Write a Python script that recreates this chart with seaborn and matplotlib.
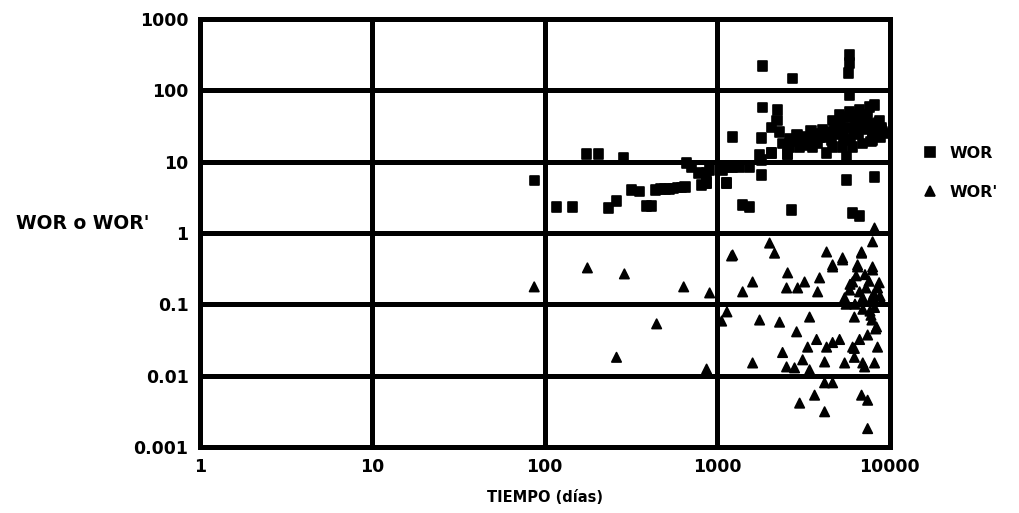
import numpy as np
import pandas as pd
import seaborn as sns
import matplotlib.pyplot as plt
from matplotlib.ticker import FixedLocator, FixedFormatter, NullLocator

# WOR (cuadrados)
wor_t = [87, 117, 145, 175, 206, 287, 235, 261, 319, 356, 390, 417,
         440, 470, 500, 530, 560, 590, 620, 650,
         666, 711, 781, 813, 869, 1135, 1230,
         1835, 2741, 5864, 5864, 5785, 5864,
         1835, 2243, 2230, 2070, 2302, 1811, 2631, 3009, 3302, 3774, 4090, 4673,
         5130, 5864, 6700, 7650, 8180, 8750, 8990, 7970, 6990, 6105, 5342, 4673,
         4313, 3580, 3009, 2631, 2070, 2564, 1763, 5632,
         869, 905, 1076, 1181, 1350, 1543, 1811, 1135, 869,
         2070, 2564, 1230, 1811, 5632, 8180, 1406, 1543, 2704, 6105, 6700,
         3929, 4673, 5342, 6523, 7165, 7970, 8515, 9100, 4200, 5000, 6000, 7000,
         2400, 2800, 3200, 3600, 4000, 4400, 4800, 5200, 5600, 6000, 6400,
         6800, 7200, 7600, 8000, 8400, 8800, 9200, 3400, 3800, 4600, 5400,
         6200, 7400, 8600, 5100, 5900, 6600, 7800, 9000, 2900, 3500]
wor_v = [5.4, 2.3, 2.3, 12.8, 12.8, 11.3, 2.24, 2.8, 4.0, 3.8, 2.4, 2.4,
         4.0, 4.1, 4.1, 4.1, 4.2, 4.3, 4.3, 4.4,
         9.6, 8.2, 6.9, 4.7, 5.0, 5.0, 22,
         220, 145, 314, 242, 175, 86,
         57, 53, 38, 30, 26, 21.5, 21, 20, 20, 25, 28, 38,
         45, 50, 53, 58, 62, 38, 28, 20, 18, 16, 16, 16,
         13.2, 16, 16, 16, 13.2, 12.8, 12.4, 11.6,
         6.9, 7.6, 7.6, 8.2, 8.2, 8.2, 6.5, 5.0, 5.0,
         13.2, 12.8, 8.2, 10.5, 5.5, 6.1, 2.47, 2.3, 2.1, 1.9, 1.73,
         22, 25, 30, 35, 28, 24, 30, 26, 22, 24, 30, 32,
         18, 19, 22, 21, 23, 26, 33, 36, 42, 45, 40,
         36, 42, 34, 30, 26, 22, 25, 17, 18, 20, 22,
         27, 46, 35, 28, 20, 24, 19, 30, 24, 27]

# WOR' (triangulos)
worp_t = [87, 177, 290, 640, 446, 261, 869, 905, 1230, 1062, 1140,
          1213, 2015, 2153, 1606, 1406, 2564, 2528, 2930, 3215, 3827, 3929,
          4313, 4673, 5342, 6523, 6880, 7970, 8180, 7970,
          1763, 2302, 2890, 3437, 3774, 2396, 3350, 4313, 1606, 2528, 2812,
          3133, 3437, 4200, 5487, 6105, 7165, 8180, 8515, 4200, 4673, 3674,
          3009, 4200, 6880, 7460, 7460,
          5342, 6880, 4673, 6523, 7970, 6105, 5864, 6700, 7300, 8515, 5487,
          6990, 7970, 6250, 7900, 8400, 7460, 5130, 6700, 6250, 6250, 6990,
          4673, 8180, 9000, 8700, 5600, 7700,
          7200, 7600, 8100, 6400, 5900, 8800, 7000, 6300, 7800, 8300]
worp_v = [0.175, 0.323, 0.266, 0.175, 0.053, 0.018, 0.0123, 0.144, 0.49, 0.058, 0.078,
          0.475, 0.72, 0.52, 0.205, 0.149, 0.275, 0.169, 0.169, 0.205, 0.149, 0.234,
          0.54, 0.333, 0.446, 0.333, 0.54, 0.333, 1.17, 0.75,
          0.060, 0.056, 0.041, 0.066, 0.032, 0.021, 0.025, 0.025, 0.015, 0.0132, 0.0128,
          0.0166, 0.012, 0.0155, 0.015, 0.025, 0.0132, 0.015, 0.025, 0.0079, 0.0079, 0.0053,
          0.0041, 0.0031, 0.0053, 0.0045, 0.0018,
          0.418, 0.52, 0.356, 0.356, 0.302, 0.205, 0.158, 0.149, 0.169, 0.169, 0.123,
          0.123, 0.127, 0.066, 0.060, 0.048, 0.037, 0.032, 0.032, 0.024, 0.018, 0.015,
          0.029, 0.09, 0.11, 0.2, 0.1, 0.08,
          0.26, 0.21, 0.14, 0.25, 0.19, 0.13, 0.085, 0.1, 0.07, 0.045]

x_ticks = [1, 10, 100, 1000, 10000]
x_labels = ["1", "10", "100", "1000", "10000"]
y_ticks = [0.001, 0.01, 0.1, 1, 10, 100, 1000]
y_labels = ["0.001", "0.01", "0.1", "1", "10", "100", "1000"]

df = pd.concat([
    pd.DataFrame({"t": wor_t, "v": wor_v, "serie": "WOR"}),
    pd.DataFrame({"t": worp_t, "v": worp_v, "serie": "WOR'"}),
], ignore_index=True)

sns.set_style("white")
plt.rcParams["font.family"] = ["DejaVu Sans"]
plt.rcParams["font.weight"] = "bold"
plt.rcParams["text.color"] = "black"
plt.rcParams["axes.labelcolor"] = "black"
plt.rcParams["xtick.color"] = "black"
plt.rcParams["ytick.color"] = "black"

fig = plt.figure(figsize=(10.19, 5.13), dpi=100)
ax = fig.add_axes([0.196, 0.129, 0.677, 0.834])

sns.scatterplot(data=df, x="t", y="v", style="serie",
                markers={"WOR": "s", "WOR'": "^"}, color="black",
                s=46, edgecolor="black", linewidth=1.2, ax=ax)

ax.set_xscale("log")
ax.set_yscale("log")
ax.set_xlim(1, 10000)
ax.set_ylim(0.001, 1000)
ax.xaxis.set_major_locator(FixedLocator(x_ticks))
ax.xaxis.set_major_formatter(FixedFormatter(x_labels))
ax.yaxis.set_major_locator(FixedLocator(y_ticks))
ax.yaxis.set_major_formatter(FixedFormatter(y_labels))
ax.xaxis.set_minor_locator(NullLocator())
ax.yaxis.set_minor_locator(NullLocator())

ax.grid(True, which="major", color="black", linewidth=3.6)
ax.set_axisbelow(True)
for sp in ax.spines.values():
    sp.set_linewidth(3.6)
    sp.set_color("black")
ax.tick_params(axis="both", length=4, width=2, color="black",
               labelcolor="black", labelsize=12.5, pad=4)
for lab in ax.get_xticklabels() + ax.get_yticklabels():
    lab.set_fontweight("bold")

ax.set_xlabel("TIEMPO (días)", fontsize=10.5, fontweight="bold", labelpad=10,
              color="black")
ax.set_ylabel("WOR o WOR'", fontsize=13.5, fontweight="bold", rotation=0,
              labelpad=0, color="black")
ax.yaxis.set_label_coords(-0.17, 0.5)

sns.move_legend(ax, "center left", bbox_to_anchor=(1.015, 0.64), title=None,
                frameon=False, fontsize=11.5, handletextpad=0.2, labelspacing=1.5,
                markerscale=1.0)
for txt in ax.get_legend().get_texts():
    txt.set_fontweight("bold")
    txt.set_color("black")

fig.savefig("out.png", dpi=100, facecolor="white")
